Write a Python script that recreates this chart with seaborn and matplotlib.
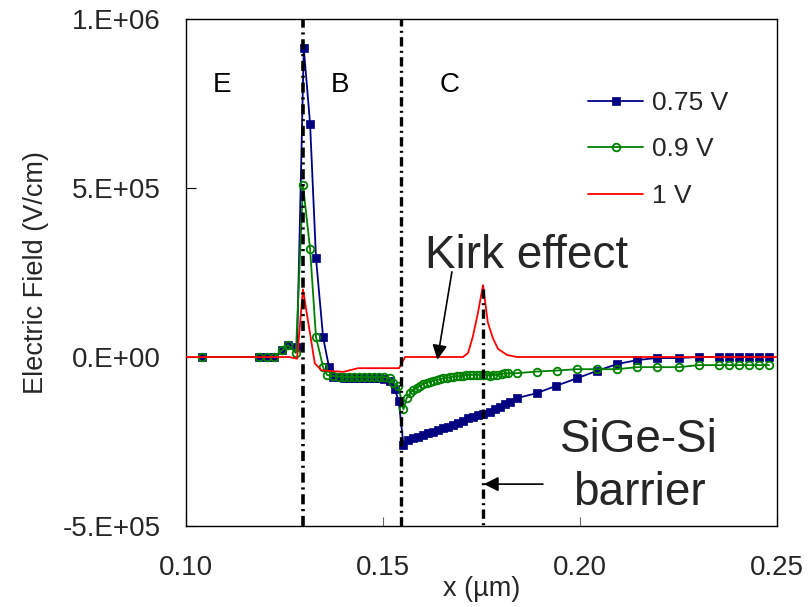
import math
import numpy as np
import pandas as pd
import seaborn as sns
import matplotlib
matplotlib.use("Agg")
import matplotlib.pyplot as plt
from matplotlib.ticker import FuncFormatter, FixedLocator

# ---- data: electric field along the HBT depth for three bias points ----
x_075 = [0.1041, 0.1185, 0.1206, 0.1223, 0.1244, 0.1259, 0.1282, 0.1299, 0.1315,
         0.1330, 0.1348, 0.1363, 0.1374, 0.1389, 0.1402, 0.1414, 0.1426, 0.1440,
         0.1452, 0.1465, 0.1478, 0.1491, 0.1503, 0.1518, 0.1530, 0.1540, 0.1552,
         0.1564, 0.1577, 0.1590, 0.1602, 0.1615, 0.1628, 0.1640, 0.1653, 0.1666,
         0.1678, 0.1691, 0.1704, 0.1716, 0.1729, 0.1742, 0.1755, 0.1772, 0.1784,
         0.1797, 0.1810, 0.1822, 0.1839, 0.1890, 0.1938, 0.1992, 0.2043, 0.2094,
         0.2145, 0.2195, 0.2251, 0.2302, 0.2353, 0.2378, 0.2404, 0.2429, 0.2454,
         0.2480]
e_075 = [0, 0, 0, 0, 2.0e4, 3.5e4, 3.0e4, 9.14e5, 6.9e5,
         2.93e5, 5.9e4, -3.0e4, -5.8e4, -6.0e4, -6.1e4, -6.1e4, -6.1e4, -6.2e4,
         -6.2e4, -6.2e4, -6.3e4, -6.3e4, -6.4e4, -7.0e4, -9.5e4, -1.3e5, -2.6e5,
         -2.46e5, -2.41e5, -2.36e5, -2.31e5, -2.26e5, -2.21e5, -2.16e5, -2.11e5, -2.06e5,
         -2.01e5, -1.94e5, -1.88e5, -1.81e5, -1.77e5, -1.72e5, -1.69e5, -1.62e5, -1.55e5,
         -1.47e5, -1.39e5, -1.32e5, -1.22e5, -1.07e5, -8.6e4, -6.3e4, -4.1e4, -2.1e4,
         -9e3, -3e3, -3e3, 0, 0, 0, 0, 0, 0,
         0]

x_09 = [0.1041, 0.1185, 0.1206, 0.1223, 0.1244, 0.1259, 0.1279, 0.1297, 0.1315,
        0.1330, 0.1348, 0.1358, 0.1374, 0.1389, 0.1402, 0.1414, 0.1426, 0.1440,
        0.1452, 0.1465, 0.1478, 0.1491, 0.1503, 0.1518, 0.1526, 0.1539, 0.1552,
        0.1560, 0.1569, 0.1577, 0.1586, 0.1594, 0.1602, 0.1611, 0.1619, 0.1628,
        0.1636, 0.1645, 0.1653, 0.1662, 0.1670, 0.1678, 0.1687, 0.1695, 0.1704,
        0.1712, 0.1721, 0.1729, 0.1738, 0.1746, 0.1755, 0.1763, 0.1772, 0.1780,
        0.1789, 0.1801, 0.1810, 0.1818, 0.1839, 0.1890, 0.1941, 0.1992, 0.2043,
        0.2094, 0.2145, 0.2195, 0.2251, 0.2302, 0.2353, 0.2378, 0.2404, 0.2429,
        0.2454, 0.2480]
e_09 = [0, 0, 0, 0, 2.0e4, 3.5e4, 1.2e4, 5.09e5, 3.2e5,
        5.9e4, -3.0e4, -5.3e4, -5.6e4, -5.8e4, -5.9e4, -5.9e4, -5.9e4, -5.9e4,
        -5.9e4, -5.9e4, -5.9e4, -5.9e4, -5.9e4, -6.3e4, -7.7e4, -8.6e4, -1.55e5,
        -1.22e5, -1.07e5, -9.8e4, -9.1e4, -8.6e4, -8.0e4, -7.6e4, -7.3e4, -7.0e4,
        -6.8e4, -6.6e4, -6.3e4, -6.1e4, -6.0e4, -5.8e4, -5.7e4, -5.6e4, -5.5e4,
        -5.3e4, -5.3e4, -5.3e4, -5.3e4, -5.3e4, -5.3e4, -5.3e4, -5.5e4, -5.3e4,
        -5.3e4, -5.0e4, -4.8e4, -4.8e4, -4.8e4, -4.3e4, -4.0e4, -3.6e4, -3.6e4,
        -3.6e4, -3.0e4, -3.0e4, -3.0e4, -2.4e4, -2.4e4, -2.4e4, -2.4e4, -2.4e4,
        -2.4e4, -2.4e4]

x_1 = [0.1000, 0.1244, 0.1262, 0.1282, 0.1297, 0.1327, 0.1344, 0.1399, 0.1437,
       0.1541, 0.1556, 0.1703, 0.1716, 0.1728, 0.1741, 0.1754, 0.1766, 0.1779,
       0.1792, 0.1815, 0.1840, 0.2500]
e_1 = [0, 0, 0, -5e3, 2.0e5, -1.9e4, -3.9e4, -4.4e4, -3.3e4,
       -3.3e4, 0, 0, 1.2e4, 6.0e4, 1.3e5, 2.13e5, 1.03e5, 5.6e4,
       2.4e4, 6e3, 0, 0]

series_labels = ["0.75 V", "0.9 V", "1 V"]

# region boundaries (emitter/base, base/collector, SiGe-Si barrier)
boundary_x = [0.1297, 0.1546, 0.1754]
barrier_top = 2.0e5

region_labels = ["E", "B", "C"]
region_x = [0.1091, 0.1391, 0.1668]
region_y = 8.05e5

x_ticks = [0.10, 0.15, 0.20, 0.25]
y_ticks = [-5e5, 0, 5e5, 1e6]

# ---- styling ----
sns.set_theme(style="white")
plt.rcParams["font.family"] = ["Liberation Sans", "DejaVu Sans"]
plt.rcParams["axes.unicode_minus"] = False

fig = plt.figure(figsize=(8.1, 6.07), dpi=100)
ax = fig.add_axes([0.2296, 0.1334, 0.7296, 0.8353])

navy = "#000080"
green = "#008000"
red = "#FF0000"

sns.lineplot(x=x_075, y=e_075, ax=ax, color=navy, linewidth=1.3, marker="s",
             markersize=6, markerfacecolor=navy, markeredgecolor=navy,
             markeredgewidth=0.5, estimator=None, sort=False,
             label=series_labels[0], zorder=3)
sns.lineplot(x=x_09, y=e_09, ax=ax, color=green, linewidth=1.3, marker="o",
             markersize=5.5, markerfacecolor="none", markeredgecolor=green,
             markeredgewidth=1.3, estimator=None, sort=False,
             label=series_labels[1], zorder=4)
sns.lineplot(x=x_1, y=e_1, ax=ax, color=red, linewidth=1.3,
             estimator=None, sort=False, label=series_labels[2], zorder=5)

# dash-dot boundary lines
dashdot = (0, (2.8, 1.3, 0.6, 1.3))
ax.axvline(boundary_x[0], color="black", linewidth=2.6, linestyle=dashdot, zorder=6)
ax.axvline(boundary_x[1], color="black", linewidth=2.4, linestyle=dashdot, zorder=6)
ax.plot([boundary_x[2], boundary_x[2]], [barrier_top, -5e5], color="black",
        linewidth=2.4, linestyle=dashdot, zorder=6, clip_on=False)

for lab, xr in zip(region_labels, region_x):
    ax.text(xr, region_y, lab, fontsize=20, ha="center", va="center", color="black")

# annotations
ax.text(0.1607, 2.63e5, "Kirk effect", fontsize=33, ha="left", va="baseline")
ax.annotate("", xy=(0.1638, -8e3), xytext=(0.1675, 2.52e5),
            arrowprops=dict(arrowstyle="-|>", color="black", lw=1.2,
                            mutation_scale=22, shrinkA=0, shrinkB=0), zorder=7)
ax.text(0.2150, -2.81e5, "SiGe-Si", fontsize=33, ha="center", va="baseline")
ax.text(0.2150, -4.38e5, "barrier", fontsize=33, ha="center", va="baseline")
ax.annotate("", xy=(0.1756, -3.76e5), xytext=(0.1906, -3.76e5),
            arrowprops=dict(arrowstyle="-|>", color="black", lw=1.2,
                            mutation_scale=22, shrinkA=0, shrinkB=0), zorder=7)

# axes
ax.set_xlim(0.10, 0.25)
ax.set_ylim(-5e5, 1e6)
ax.xaxis.set_major_locator(FixedLocator(x_ticks))
ax.yaxis.set_major_locator(FixedLocator(y_ticks))
ax.xaxis.set_major_formatter(FuncFormatter(lambda v, p: f"{v:.2f}"))


def sci_label(v, pos):
    if v == 0:
        return "0.E+00"
    e = int(math.floor(math.log10(abs(v))))
    m = v / 10 ** e
    return f"{m:.0f}.E+{e:02d}"


ax.yaxis.set_major_formatter(FuncFormatter(sci_label))
ax.tick_params(axis="x", direction="in", length=6.5, width=0.8, color="#666666",
               labelsize=20, pad=21, bottom=True)
ax.tick_params(axis="y", direction="in", length=7.5, width=0.8, color="black",
               labelsize=20, pad=18, left=True)

for s in ax.spines.values():
    s.set_color("black")
    s.set_linewidth(1.0)

ax.set_xlabel("x (µm)", fontsize=19.5, labelpad=-4)
ax.set_ylabel("Electric Field (V/cm)", fontsize=19.5)
ax.yaxis.set_label_coords(-0.232, 0.5)

leg = ax.legend(loc="upper left", bbox_to_anchor=(0.680, 0.858), frameon=False,
                fontsize=19, handlelength=2.1, handletextpad=0.35,
                labelspacing=0.85, borderpad=0, borderaxespad=0, numpoints=1)

fig.savefig("out.png", dpi=100)
